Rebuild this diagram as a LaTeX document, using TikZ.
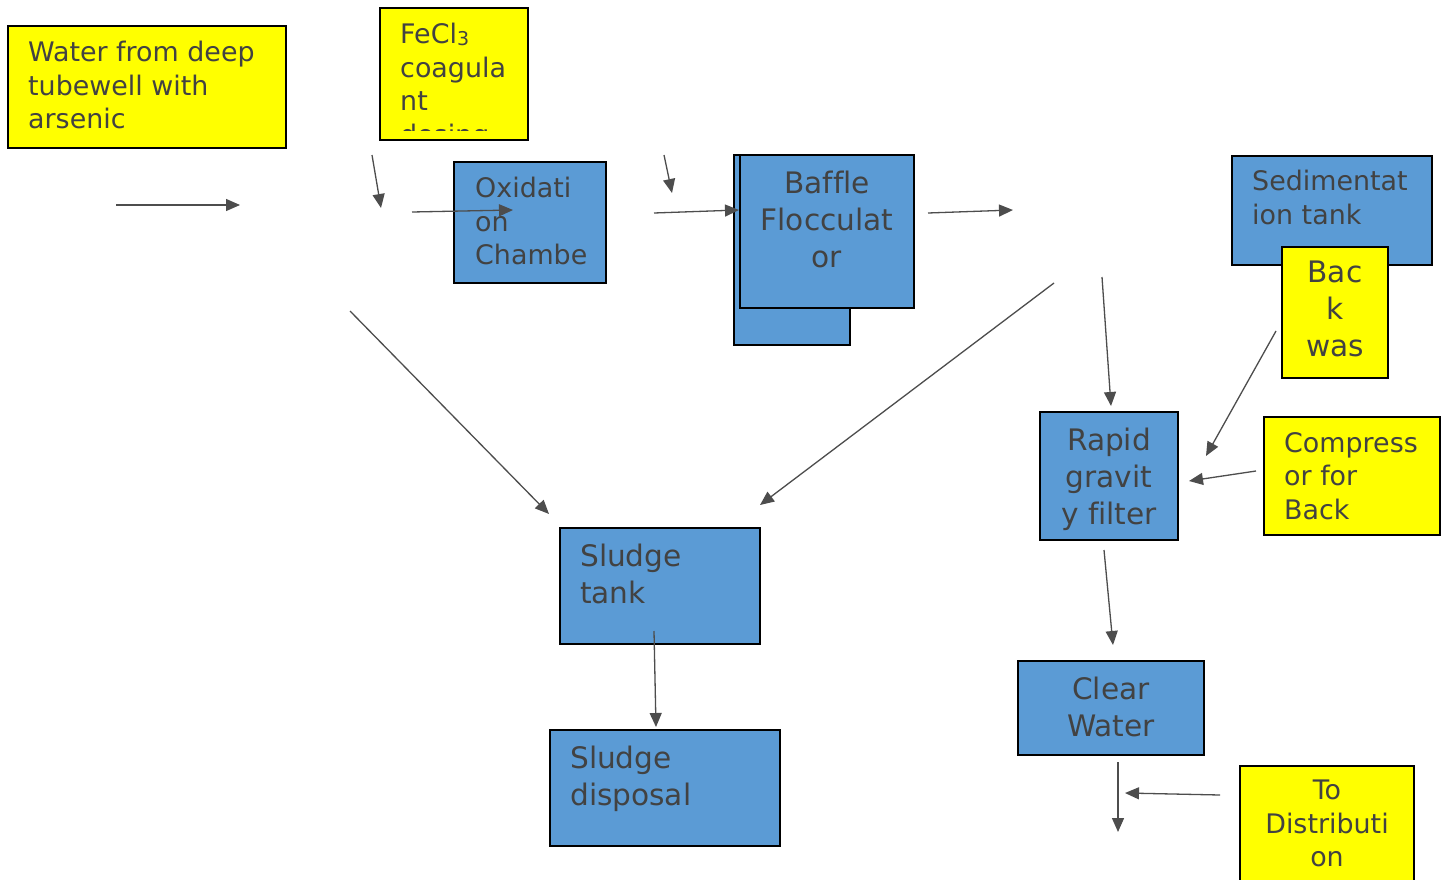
\documentclass[tikz,border=0pt]{standalone}
\usepackage{fontspec}
\setmainfont[Ligatures=NoCommon]{DejaVu Sans}
\usetikzlibrary{arrows.meta}
\definecolor{boxblue}{RGB}{91,155,213}
\definecolor{boxyellow}{RGB}{255,255,0}
\definecolor{txtgray}{RGB}{66,66,66}
\definecolor{arrgray}{RGB}{77,77,77}

\begin{document}
\begin{tikzpicture}
  [x=1pt,y=-1pt,
   box/.style={draw=black,line width=1.6pt,inner sep=0pt,outer sep=0pt,anchor=north west},
   bluebox/.style={box,fill=boxblue},
   yelbox/.style={box,fill=boxyellow},
   lbl/.style={inner sep=0pt,text=txtgray,font=\fontsize{26.9}{33.5}\selectfont},
   biglbl/.style={lbl,font=\fontsize{29.6}{37}\selectfont},
   flow/.style={draw=arrgray,line width=1.3pt,-{Triangle[length=14pt,width=12pt]}}]
  \useasboundingbox (0,0) rectangle (1445,880);
  \fill[white] (0,0) rectangle (1445,880);

  % boxes
  \node[yelbox,minimum width=278pt,minimum height=122pt] (water) at (8,26) {};
  \node[yelbox,minimum width=148pt,minimum height=132pt] (fecl) at (380,8) {};
  \node[bluebox,minimum width=152pt,minimum height=121pt] (oxid) at (454,162) {};
  \node[bluebox,minimum width=116pt,minimum height=190pt] (bafback) at (734,155) {};
  \node[bluebox,minimum width=174pt,minimum height=153pt] (baffle) at (740,155) {};
  \node[bluebox,minimum width=200pt,minimum height=109pt] (sed) at (1232,156) {};
  \node[yelbox,minimum width=106pt,minimum height=131pt] (back) at (1282,247) {};
  \node[bluebox,minimum width=138pt,minimum height=128pt] (rapid) at (1040,412) {};
  \node[yelbox,minimum width=176pt,minimum height=118pt] (compr) at (1264,417) {};
  \node[bluebox,minimum width=200pt,minimum height=116pt] (stank) at (560,528) {};
  \node[bluebox,minimum width=230pt,minimum height=116pt] (sdisp) at (550,730) {};
  \node[bluebox,minimum width=186pt,minimum height=94pt] (clear) at (1018,661) {};
  \node[yelbox,minimum width=174pt,minimum height=130pt] (distr) at (1240,766) {};

  % texts
  \node[lbl,anchor=north west,align=left] (twater) at (28,41)
    {Water from deep\\tubewell with\\arsenic};
  \begin{scope}
    \clip (380,8) rectangle (528,131);
    \node[lbl,anchor=north west,align=left] (tfecl) at (400,23)
      {FeCl{\fontsize{19}{19}\selectfont\raisebox{-2pt}{3}}\\coagula\\nt\\dosing};
  \end{scope}
  \node[lbl,anchor=north west,align=left] (toxid) at (475,177)
    {Oxidati\\on\\Chambe};
  \node[biglbl,anchor=north,align=center] (tbaffle) at (827,171)
    {Baffle\\Flocculat\\or};
  \node[lbl,anchor=north west,align=left] (tsed) at (1252,170)
    {Sedimentat\\ion tank};
  \node[biglbl,anchor=north,align=center] (tback) at (1335,261)
    {Bac\\k\\was};
  \node[biglbl,anchor=north,align=center] (trapid) at (1109,428)
    {Rapid\\gravit\\y filter};
  \node[lbl,anchor=north west,align=left] (tcompr) at (1284,432)
    {Compress\\or for\\Back};
  \node[biglbl,anchor=north west,align=left] (tstank) at (580,544)
    {Sludge\\tank};
  \node[biglbl,anchor=north west,align=left] (tsdisp) at (570,746)
    {Sludge\\disposal};
  \node[biglbl,anchor=north,align=center] (tclear) at (1111,677)
    {Clear\\Water};
  \node[lbl,anchor=north,align=center] (tdistr) at (1327,780)
    {To\\Distributi\\on};

  % arrow ends
  \coordinate (inS) at (116,205);    \coordinate (inE) at (240,205);
  \coordinate (feS) at (372,155);    \coordinate (feE) at (381,208);
  \coordinate (oxS) at (412,212);    \coordinate (oxE) at (513,210);
  \coordinate (dsS) at (664,155);    \coordinate (dsE) at (672,193);
  \coordinate (bfS) at (654,213);    \coordinate (bfE) at (739,210);
  \coordinate (sdS) at (928,213);    \coordinate (sdE) at (1013,210);
  \coordinate (slS) at (1054,283);   \coordinate (slE) at (760,505);
  \coordinate (stS) at (350,311);    \coordinate (stE) at (549,514);
  \coordinate (rgS) at (1102,277);   \coordinate (rgE) at (1111,406);
  \coordinate (bwS) at (1276,331);   \coordinate (bwE) at (1206,456);
  \coordinate (cpS) at (1256,471);   \coordinate (cpE) at (1189,481);
  \coordinate (cwS) at (1104,550);   \coordinate (cwE) at (1113,645);
  \coordinate (dpS) at (654,631);    \coordinate (dpE) at (656,727);
  \coordinate (ouS) at (1118,762);   \coordinate (ouE) at (1118,832);
  \coordinate (toS) at (1220,795);   \coordinate (toE) at (1125,793);

  \foreach \from/\to in {inS/inE,feS/feE,oxS/oxE,dsS/dsE,bfS/bfE,sdS/sdE,
      slS/slE,stS/stE,rgS/rgE,bwS/bwE,cpS/cpE,cwS/cwE,dpS/dpE,ouS/ouE,toS/toE}
    \draw[flow] (\from) -- (\to);
\end{tikzpicture}
\end{document}
